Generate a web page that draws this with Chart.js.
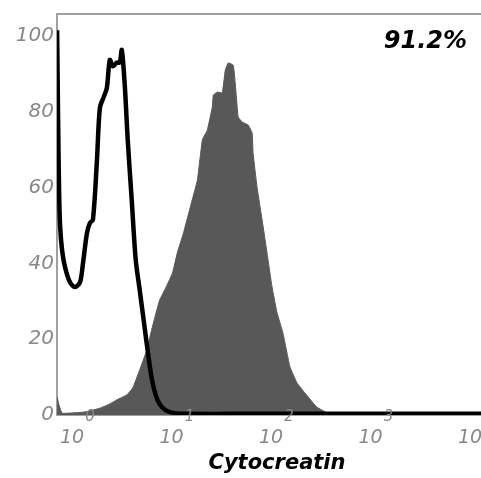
<!DOCTYPE html>
<html>
<head>
<meta charset="utf-8">
<script src="https://cdn.jsdelivr.net/npm/chart.js@4"></script>
<style>
  body { margin: 0; background: #fff; }
  canvas { display: block; }
</style>
</head>
<body>
<canvas id="histChart" width="481" height="478"></canvas>
<script>
// x positions are log10 of Cytocreatin intensity (decades), y is % of max
const controlLog = [-0.23, -0.22, -0.21, -0.20, -0.18, -0.15, -0.10, -0.05, 0.00, 0.03, 0.07, 0.10, 0.13,
    0.17, 0.20, 0.24, 0.27, 0.30, 0.33, 0.37, 0.40, 0.42, 0.45, 0.48, 0.52, 0.56, 0.60, 0.64, 0.68,
    0.72, 0.76, 0.80, 0.86, 0.95, 1.11, 1.5, 2.0, 2.5, 3.0, 3.5, 4.03];
const controlCount = [101.5, 78, 59, 50, 43.5, 39, 35, 33.8, 35, 40, 48, 50.7, 51.5,
    67, 81, 84, 86.3, 93.7, 92, 93, 93, 96.3, 87, 72.5, 56.7, 41, 33, 25, 17,
    9.8, 5.3, 2.9, 1.3, 0.5, 0.3, 0.3, 0.3, 0.3, 0.3, 0.3, 0.3];

const stainedLog = [-0.23, -0.21, -0.18, -0.10, 0.05, 0.20, 0.30, 0.37, 0.47, 0.53, 0.60, 0.67, 0.73,
    0.80, 0.87, 0.93, 0.98, 1.04, 1.11, 1.18, 1.23, 1.28, 1.33, 1.34, 1.38, 1.43, 1.46, 1.49, 1.54,
    1.56, 1.59, 1.63, 1.69, 1.73, 1.74, 1.78, 1.83, 1.88, 1.93, 1.98, 2.04, 2.11, 2.18, 2.26, 2.38,
    2.49, 2.56, 4.03];
const stainedCount = [4.7, 2.6, 0.5, 0.5, 0.8, 1.8, 2.9, 4, 5.3, 7.1, 11.9, 17, 23.5,
    30.3, 34, 37.5, 43, 48, 55, 62, 72.6, 75.2, 81.3, 84.4, 85.2, 85, 91, 92.9, 92.3,
    87.6, 78.6, 77.3, 76.5, 74.4, 69, 60, 51.5, 42.7, 33.8, 27, 21.6, 12.7, 8.5, 5.8, 2.1,
    0.5, 0, 0];

const yTicks = [0, 20, 40, 60, 80, 100];
const xDecades = [0, 1, 2, 3, 4];
const axisTitle = 'Cytocreatin';
const percentLabel = '91.2%';

function toPoints(xs, ys) {
    return xs.map((x, i) => ({ x: x, y: ys[i] }));
}

const labelPlugin = {
    id: 'flowLabels',
    beforeDatasetsDraw(chart) {
        const ctx = chart.ctx;
        const area = chart.chartArea;
        ctx.save();
        // frame: top, left, bottom
        ctx.strokeStyle = '#a0a0a0';
        ctx.lineWidth = 2;
        ctx.beginPath();
        ctx.moveTo(area.right, area.top);
        ctx.lineTo(area.left, area.top);
        ctx.lineTo(area.left, area.bottom);
        ctx.lineTo(area.right, area.bottom);
        ctx.stroke();
        ctx.restore();
    },
    afterDraw(chart) {
        const ctx = chart.ctx;
        const area = chart.chartArea;
        const xs = chart.scales.x;
        const ys = chart.scales.y;

        ctx.save();
        // y tick labels
        ctx.fillStyle = '#888';
        ctx.font = 'italic 20px "DejaVu Sans"';
        ctx.textAlign = 'right';
        ctx.textBaseline = 'middle';
        yTicks.forEach(v => {
            ctx.fillText(String(v), area.left - 3, ys.getPixelForValue(v));
        });

        // x tick labels 10^n
        xDecades.forEach(d => {
            const px = xs.getPixelForValue(d);
            ctx.font = 'italic 19px "DejaVu Sans"';
            ctx.textAlign = 'center';
            ctx.textBaseline = 'middle';
            ctx.fillText('10', px - 8, area.bottom + 23);
            ctx.font = 'italic 15px "DejaVu Sans"';
            ctx.fillText(String(d), px + 10, area.bottom + 2);
        });

        // axis title and percentage
        ctx.fillStyle = '#000';
        ctx.font = 'italic bold 21px "DejaVu Sans"';
        ctx.textAlign = 'center';
        ctx.fillText(axisTitle, 277, area.bottom + 49);
        ctx.font = 'italic bold 24px "DejaVu Sans"';
        ctx.textAlign = 'right';
        ctx.fillText(percentLabel, 467, 42);
        ctx.restore();
    }
};

new Chart(document.getElementById('histChart').getContext('2d'), {
    type: 'line',
    data: {
        datasets: [
            {
                label: 'Isotype',
                data: toPoints(controlLog, controlCount),
                borderColor: '#000',
                borderWidth: 4.5,
                fill: false,
                pointRadius: 0,
                tension: 0.3
            },
            {
                label: 'Cytocreatin',
                data: toPoints(stainedLog, stainedCount),
                backgroundColor: '#585858',
                borderColor: '#585858',
                borderWidth: 1,
                fill: 'origin',
                pointRadius: 0,
                tension: 0.1
            }
        ]
    },
    options: {
        responsive: false,
        animation: false,
        layout: { padding: { left: 57, top: 14, right: 0, bottom: 63 } },
        plugins: {
            legend: { display: false },
            tooltip: { enabled: false }
        },
        scales: {
            x: {
                type: 'linear',
                min: -0.231,
                max: 4.03,
                grid: { display: false, drawTicks: false },
                border: { display: false },
                ticks: { display: false }
            },
            y: {
                min: 0,
                max: 105.8,
                grid: { display: false, drawTicks: false },
                border: { display: false },
                ticks: { display: false }
            }
        }
    },
    plugins: [labelPlugin]
});
</script>
</body>
</html>
